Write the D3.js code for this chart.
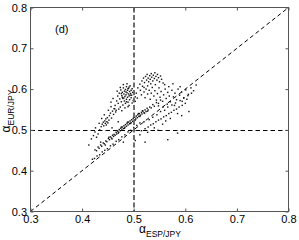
<!DOCTYPE html>
<html>
<head>
<meta charset="utf-8">
<script src="https://cdn.jsdelivr.net/npm/d3@7/dist/d3.min.js"></script>
<style>
  html, body { margin: 0; padding: 0; background: #fff; }
  svg { display: block; font-family: "Liberation Sans", Arial, Helvetica, sans-serif; }
</style>
</head>
<body>
<svg id="chart" width="299" height="240"></svg>
<script>
// ---- Data (alpha_ESP/JPY, alpha_EUR/JPY) ----
const tickValues = [0.3, 0.4, 0.5, 0.6, 0.7, 0.8];
const panelLabel = "(d)";
const xLabelMain = "α", xLabelSub = "ESP/JPY";
const yLabelMain = "α", yLabelSub = "EUR/JPY";

const mainBand = [
  [0.425,0.451],[0.428,0.449],[0.431,0.458],[0.433,0.455],[0.436,0.463],[0.438,0.460],[0.441,0.468],[0.443,0.466],
  [0.446,0.473],[0.448,0.471],[0.451,0.479],[0.453,0.476],[0.455,0.483],[0.457,0.480],[0.459,0.487],[0.461,0.484],
  [0.462,0.489],[0.464,0.487],[0.466,0.494],[0.467,0.490],[0.469,0.497],[0.471,0.494],[0.472,0.501],[0.474,0.498],
  [0.475,0.504],[0.477,0.500],[0.478,0.507],[0.480,0.503],[0.481,0.510],[0.483,0.506],[0.484,0.513],[0.486,0.509],
  [0.487,0.516],[0.489,0.512],[0.490,0.519],[0.492,0.515],[0.493,0.522],[0.495,0.518],[0.496,0.525],[0.498,0.521],
  [0.499,0.528],[0.501,0.524],[0.502,0.531],[0.504,0.527],[0.505,0.534],[0.507,0.530],[0.508,0.537],[0.510,0.533],
  [0.511,0.540],[0.513,0.536],[0.515,0.543],[0.516,0.539],[0.518,0.546],[0.520,0.542],[0.522,0.549],[0.524,0.545],
  [0.526,0.553],[0.528,0.549],[0.531,0.556],[0.534,0.554],[0.537,0.562],[0.540,0.558],[0.544,0.567],[0.548,0.565],
  [0.552,0.573],[0.470,0.492],[0.476,0.507],[0.482,0.504],[0.488,0.519],[0.494,0.516],[0.500,0.531],[0.503,0.524],
  [0.509,0.540],[0.512,0.533],[0.517,0.547],[0.521,0.541],[0.527,0.546],[0.445,0.463],[0.452,0.482],[0.458,0.478]
];
const lowerBand = [
  [0.420,0.428],[0.424,0.430],[0.429,0.436],[0.434,0.439],[0.439,0.446],[0.444,0.450],[0.449,0.454],[0.455,0.461],
  [0.460,0.465],[0.466,0.472],[0.471,0.476],[0.477,0.483],[0.483,0.488],[0.489,0.495],[0.494,0.499],[0.500,0.506],
  [0.506,0.511],[0.512,0.517],
  [0.515,0.498],[0.522,0.503],[0.528,0.507],[0.533,0.512],[0.538,0.515],[0.543,0.520],[0.548,0.524],[0.553,0.527],
  [0.558,0.532],[0.563,0.535],[0.568,0.540],[0.573,0.543],[0.578,0.548],[0.583,0.551],[0.588,0.556],[0.594,0.560],
  [0.600,0.565],[0.520,0.520],[0.530,0.525],[0.537,0.531],[0.545,0.537],[0.552,0.545],[0.560,0.548],[0.566,0.556],
  [0.574,0.561],[0.581,0.566],[0.590,0.572],[0.597,0.579],[0.605,0.584],[0.612,0.590],[0.556,0.514],[0.571,0.528],
  [0.585,0.540],[0.540,0.505],[0.527,0.494],[0.562,0.522]
];
const denseBlob = [
  [0.464,0.560],[0.467,0.571],[0.469,0.583],[0.470,0.565],[0.472,0.590],[0.473,0.576],[0.474,0.556],[0.475,0.598],
  [0.476,0.569],[0.477,0.584],[0.478,0.592],[0.479,0.561],[0.479,0.577],[0.480,0.603],[0.481,0.588],[0.482,0.571],
  [0.482,0.595],[0.483,0.582],[0.484,0.565],[0.484,0.599],[0.485,0.586],[0.486,0.575],[0.486,0.606],[0.487,0.591],
  [0.488,0.580],[0.488,0.597],[0.489,0.568],[0.490,0.588],[0.490,0.602],[0.491,0.583],[0.492,0.594],[0.492,0.574],
  [0.493,0.608],[0.494,0.589],[0.495,0.597],[0.495,0.579],[0.496,0.585],[0.497,0.601],[0.498,0.592],[0.499,0.572],
  [0.500,0.587],[0.501,0.596],[0.503,0.581],[0.505,0.590],[0.462,0.552],[0.466,0.548],[0.471,0.551],[0.468,0.595],
  [0.474,0.604],[0.480,0.611],[0.487,0.613],[0.491,0.560],[0.497,0.566],[0.503,0.570],[0.507,0.578],[0.460,0.577],
  [0.456,0.568],[0.477,0.547],[0.483,0.554],[0.489,0.557],[0.478,0.580],[0.485,0.593],[0.481,0.578],[0.489,0.601],
  [0.493,0.585],[0.476,0.589],[0.486,0.569],[0.491,0.605]
];
const leftCluster = [
  [0.418,0.478],[0.422,0.486],[0.425,0.495],[0.428,0.482],[0.431,0.490],[0.434,0.500],[0.437,0.508],[0.439,0.514],
  [0.441,0.519],[0.442,0.510],[0.444,0.522],[0.445,0.516],[0.446,0.527],[0.447,0.512],[0.448,0.520],[0.449,0.530],
  [0.450,0.517],[0.452,0.524],[0.453,0.535],[0.455,0.541],[0.457,0.529],[0.459,0.546],[0.461,0.538],[0.463,0.552],
  [0.465,0.544],[0.443,0.537],[0.438,0.528],[0.451,0.548],[0.456,0.557],[0.433,0.516],[0.426,0.505]
];
const topCluster = [
  [0.512,0.612],[0.516,0.620],[0.519,0.627],[0.521,0.616],[0.523,0.631],[0.525,0.622],[0.526,0.636],[0.528,0.627],
  [0.529,0.618],[0.531,0.633],[0.532,0.624],[0.534,0.638],[0.535,0.629],[0.537,0.620],[0.538,0.634],[0.540,0.626],
  [0.541,0.640],[0.543,0.631],[0.545,0.622],[0.546,0.636],[0.548,0.628],[0.550,0.618],[0.552,0.632],[0.554,0.624],
  [0.557,0.615],[0.533,0.613],[0.527,0.608],[0.520,0.604],[0.542,0.611]
];
const rightSpread = [
  [0.508,0.603],[0.513,0.597],[0.517,0.607],[0.515,0.586],[0.520,0.593],[0.522,0.579],[0.524,0.600],[0.527,0.588],
  [0.530,0.597],[0.532,0.575],[0.534,0.590],[0.536,0.604],[0.539,0.583],[0.541,0.596],[0.544,0.573],[0.546,0.589],
  [0.549,0.603],[0.551,0.580],[0.553,0.594],[0.556,0.570],[0.558,0.586],[0.561,0.600],[0.563,0.577],[0.566,0.592],
  [0.569,0.583],[0.571,0.569],[0.574,0.597],[0.577,0.581],[0.580,0.590],[0.583,0.574],[0.586,0.600],[0.589,0.585],
  [0.593,0.593],[0.597,0.578],[0.601,0.598],[0.606,0.587],[0.611,0.603],[0.616,0.596],[0.621,0.610],[0.560,0.611],
  [0.568,0.606],[0.576,0.613],[0.590,0.606],[0.548,0.559],[0.557,0.556],[0.565,0.563],[0.579,0.560],[0.594,0.570],
  [0.603,0.575]
];
const strays = [
  [0.503,0.474],[0.522,0.470],[0.566,0.476],[0.480,0.470],[0.413,0.463],[0.512,0.488],[0.547,0.499],[0.593,0.535],
  [0.607,0.545],[0.458,0.505],[0.470,0.520],[0.436,0.470],[0.585,0.492]
];

// ---- Layout ----
const svg = d3.select("#chart");
const W = 299, H = 240;
const x = d3.scaleLinear().domain([0.3, 0.8]).range([30.5, 288.5]);
const y = d3.scaleLinear().domain([0.3, 0.8]).range([211.5, 7.5]);
const fmt = d3.format(".1f");

svg.append("rect").attr("width", W).attr("height", H).attr("fill", "#fff");

// points
const allPoints = [].concat(mainBand, lowerBand, denseBlob, leftCluster, topCluster, rightSpread, strays);
const dot = 1.4;
svg.append("g").selectAll("rect").data(allPoints).join("rect")
  .attr("x", d => x(d[0]) - dot / 2).attr("y", d => y(d[1]) - dot / 2)
  .attr("width", dot).attr("height", dot).attr("fill", "#111");

// reference lines
const lines = svg.append("g").attr("fill", "none");
lines.append("line")
  .attr("x1", x(0.3)).attr("y1", y(0.3)).attr("x2", x(0.8)).attr("y2", y(0.8))
  .attr("stroke", "#000").attr("stroke-width", 1).attr("stroke-dasharray", "4,3");
lines.append("line")
  .attr("x1", x(0.3)).attr("y1", Math.round(y(0.5)) + 0.5).attr("x2", x(0.8)).attr("y2", Math.round(y(0.5)) + 0.5)
  .attr("stroke", "#000").attr("stroke-width", 1).attr("stroke-dasharray", "4.5,3");
lines.append("line")
  .attr("x1", Math.round(x(0.5))).attr("y1", y(0.8)).attr("x2", Math.round(x(0.5))).attr("y2", y(0.3))
  .attr("stroke", "#6e6e6e").attr("stroke-width", 2).attr("stroke-dasharray", "5,2.5");

// axes
function styleAxis(g) {
  g.select(".domain").remove();
  g.selectAll(".tick line").attr("stroke", "#555");
  g.selectAll(".tick text").attr("fill", "#000").attr("font-size", "11px")
    .attr("font-family", '"Liberation Sans", Arial, sans-serif');
}
svg.append("g").attr("transform", `translate(0,${y(0.3)})`)
  .call(d3.axisBottom(x).tickValues(tickValues).tickFormat(fmt).tickSizeInner(-3).tickSizeOuter(0).tickPadding(4))
  .call(styleAxis);
svg.append("g").attr("transform", `translate(${x(0.3)},0)`)
  .call(d3.axisLeft(y).tickValues(tickValues).tickFormat(fmt).tickSizeInner(-3).tickSizeOuter(0).tickPadding(3.5))
  .call(styleAxis);
svg.append("g").attr("transform", `translate(0,${y(0.8)})`)
  .call(d3.axisTop(x).tickValues(tickValues).tickFormat("").tickSizeInner(-3).tickSizeOuter(0))
  .call(styleAxis);
svg.append("g").attr("transform", `translate(${x(0.8)},0)`)
  .call(d3.axisRight(y).tickValues(tickValues).tickFormat("").tickSizeInner(-3).tickSizeOuter(0))
  .call(styleAxis);

// frame
svg.append("rect")
  .attr("x", x(0.3)).attr("y", y(0.8))
  .attr("width", x(0.8) - x(0.3)).attr("height", y(0.3) - y(0.8))
  .attr("fill", "none").attr("stroke", "#555").attr("stroke-width", 1);

// panel label
svg.append("text").attr("x", 55).attr("y", 33).attr("font-size", "11px").attr("fill", "#000").text(panelLabel);

// x label
const xl = svg.append("text").attr("x", 160).attr("y", 233).attr("text-anchor", "middle").attr("fill", "#000");
xl.append("tspan").attr("font-size", "12px").text(xLabelMain);
xl.append("tspan").attr("font-size", "8.5px").attr("dy", 4).text(xLabelSub);

// y label
const yl = svg.append("text").attr("transform", "translate(10,111) rotate(-90)").attr("text-anchor", "middle").attr("fill", "#000");
yl.append("tspan").attr("font-size", "12px").text(yLabelMain);
yl.append("tspan").attr("font-size", "8.5px").attr("dy", 4).text(yLabelSub);
</script>
</body>
</html>
